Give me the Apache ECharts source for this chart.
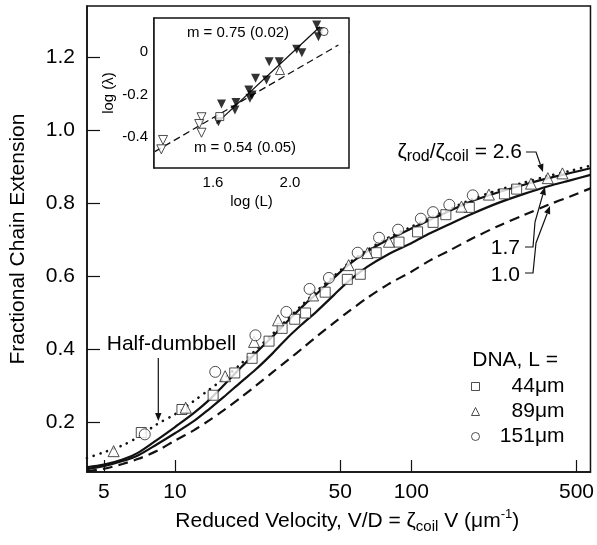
<!DOCTYPE html>
<html><head><meta charset="utf-8">
<script src="https://cdn.jsdelivr.net/npm/echarts@6/dist/echarts.min.js"></script>
<style>html,body{margin:0;padding:0;background:#fff}#c{width:597px;height:545px}</style>
</head><body><div id="c"></div>
<script>
const FONT = '"Liberation Sans", Arial, Helvetica, sans-serif';

// ---- Main plot: model curves (x = reduced velocity V/D, y = fractional extension)
const curveX = [4.24,5,6,7,8.4,10,12,14,16,19,22,26,30,35,40,47,54,65,80,100,120,145,180,235,300,380,470,573];
const halfDumbbell = [0.102,0.118,0.137,0.160,0.195,0.222,0.258,0.290,0.318,0.360,0.398,0.443,0.483,0.525,0.560,0.600,0.634,0.671,0.705,0.735,0.759,0.783,0.810,0.836,0.856,0.874,0.888,0.902];
const ratio26 = [0.077,0.084,0.098,0.117,0.152,0.187,0.225,0.262,0.300,0.350,0.390,0.436,0.477,0.520,0.553,0.595,0.630,0.667,0.700,0.730,0.754,0.778,0.805,0.830,0.850,0.868,0.882,0.895];
const ratio17 = [0.072,0.080,0.094,0.110,0.140,0.170,0.203,0.237,0.268,0.310,0.345,0.390,0.432,0.472,0.505,0.548,0.585,0.625,0.660,0.690,0.717,0.742,0.770,0.801,0.825,0.846,0.862,0.877];
const ratio10 = [0.066,0.073,0.086,0.100,0.122,0.150,0.178,0.206,0.232,0.268,0.300,0.338,0.370,0.405,0.436,0.472,0.502,0.540,0.578,0.612,0.643,0.670,0.702,0.738,0.767,0.795,0.818,0.840];

// ---- Main plot: DNA data
const dna44V = [7.2,10.7,14.5,17.9,21.2,25.0,28.4,32.1,35.7,43.2,53.6,60.8,71.0,88.7,106.3,123.6,140.0,175.9,247.8,279.0];
const dna44Y = [0.172,0.235,0.274,0.335,0.375,0.422,0.457,0.482,0.499,0.556,0.591,0.605,0.664,0.693,0.721,0.747,0.768,0.788,0.825,0.838];
const dna89V = [5.5,11.1,16.3,21.6,27.3,38.4,54.3,65.2,80.4,163,213,321,378,436];
const dna89Y = [0.121,0.240,0.326,0.420,0.479,0.547,0.630,0.663,0.694,0.790,0.823,0.853,0.868,0.881];
const dna151V = [7.45,14.8,21.9,29.6,37.1,44.8,59.3,73.0,87.9,109.7,123.6,144.8,182.0];
const dna151Y = [0.167,0.338,0.438,0.502,0.565,0.595,0.664,0.705,0.727,0.757,0.775,0.795,0.821];

const xTicks = [5,10,50,100,500];
const yTicks = [0.2,0.4,0.6,0.8,1.0,1.2];

// ---- Inset: log(lambda) vs log(L)
const insFilledX = [1.644,1.628,1.719,1.714,1.786,1.803,1.821,1.792,1.878,1.892,1.944,2.035,2.062,2.139,2.156,2.148];
const insFilledY = [-0.245,-0.328,-0.238,-0.273,-0.179,-0.202,-0.124,-0.218,-0.132,-0.046,-0.046,0.013,-0.003,0.127,0.096,0.072];
const insOpenDownX = [1.340,1.331,1.540,1.528,1.540];
const insOpenDownY = [-0.414,-0.458,-0.307,-0.339,-0.380];
const insSquareX = [1.635], insSquareY = [-0.304];
const insTriX = [1.948], insTriY = [-0.085];
const insCircleX = [2.177], insCircleY = [0.096];
const fit075X = [1.618,2.156], fit075Y = [-0.336,0.119];
const fit054X = [1.297,2.252], fit054Y = [-0.469,0.033];
const insXTicks = [1.3,1.4,1.5,1.6,1.7,1.8,1.9,2.0,2.1,2.2,2.3];
const insXLabels = [1.6,2.0];
const insYTicks = [-0.5,-0.45,-0.4,-0.35,-0.3,-0.25,-0.2,-0.15,-0.1,-0.05,0,0.05,0.1,0.15];
const insYLabels = [-0.4,-0.2,0];

const zip = (a,b) => a.map((v,i)=>[v,b[i]]);
const BLACK = '#111';
const openStyle = {color:'#fff', borderColor:'#222', borderWidth:1};

function arrow(pts, head, w) {
  head = head || 8; w = w || 3.2;
  const n = pts.length, p1 = pts[n-2], p2 = pts[n-1];
  const dx = p2[0]-p1[0], dy = p2[1]-p1[1], L = Math.hypot(dx,dy), ux = dx/L, uy = dy/L;
  const bx = p2[0]-ux*head, by = p2[1]-uy*head;
  return [
    {type:'polyline', silent:true, shape:{points: pts.slice(0,-1).concat([[bx,by]])}, style:{stroke:BLACK, lineWidth:1.2, fill:null}},
    {type:'polygon', silent:true, shape:{points:[[p2[0],p2[1]],[bx-uy*w, by+ux*w],[bx+uy*w, by-ux*w]]}, style:{fill:BLACK}}
  ];
}

const chart = echarts.init(document.getElementById('c'), null, {renderer:'canvas'});
const axisLine = {show:true, lineStyle:{color:BLACK, width:1.5}};

const option = {
  animation:false,
  textStyle:{fontFamily:FONT},
  grid:[
    {left:86, top:6, right:4, bottom:73, show:true, borderColor:BLACK, borderWidth:1.5, backgroundColor:'#fff'},
    {left:154, top:18, width:195, height:150, show:true, borderColor:BLACK, borderWidth:1.5, backgroundColor:'#fff', z:5}
  ],
  xAxis:[
    {type:'log', gridIndex:0, logBase:10, min:4.243, max:572.9,
     axisLine:axisLine,
     axisTick:{show:true, inside:true, length:12, customValues:xTicks, lineStyle:{color:BLACK, width:1.2}},
     minorTick:{show:false},
     axisLabel:{customValues:xTicks, fontSize:21, color:'#000', margin:10, fontFamily:FONT, formatter:v=>String(Math.round(v))},
     splitLine:{show:false},
     name:'Reduced Velocity, V/D = ζ{sub|coil} V (μm{sup|-1})',
     nameLocation:'middle', nameGap:30,
     nameTextStyle:{fontSize:21, color:'#000', fontFamily:FONT, lineHeight:26, padding:[0,0,0,17],
       rich:{sub:{fontSize:15, lineHeight:12, verticalAlign:'bottom', fontFamily:FONT, color:'#000'},
             sup:{fontSize:13, lineHeight:12, verticalAlign:'top', fontFamily:FONT, color:'#000'}}}
    },
    {type:'value', gridIndex:1, min:1.293, max:2.307,
     axisLine:axisLine,
     axisTick:{show:true, inside:true, length:5, customValues:insXTicks, lineStyle:{color:BLACK, width:1}},
     axisLabel:{customValues:insXLabels, fontSize:15, color:'#000', margin:7, fontFamily:FONT, formatter:v=>v.toFixed(1)},
     splitLine:{show:false},
     name:'log (L)', nameLocation:'middle', nameGap:26,
     nameTextStyle:{fontSize:15, color:'#000', fontFamily:FONT}
    }
  ],
  yAxis:[
    {type:'value', gridIndex:0, min:0.064, max:1.339,
     axisLine:axisLine,
     axisTick:{show:true, inside:true, length:13, customValues:yTicks, lineStyle:{color:BLACK, width:1.2}},
     axisLabel:{customValues:yTicks, fontSize:21, color:'#000', margin:12, fontFamily:FONT, formatter:v=>v.toFixed(1)},
     splitLine:{show:false},
     name:'Fractional Chain Extension', nameLocation:'middle', nameGap:58, nameRotate:90,
     nameTextStyle:{fontSize:21, color:'#000', fontFamily:FONT}
    },
    {type:'value', gridIndex:1, min:-0.546, max:0.16,
     axisLine:axisLine,
     axisTick:{show:true, inside:true, length:5, customValues:insYTicks, lineStyle:{color:BLACK, width:1}},
     axisLabel:{customValues:insYLabels, fontSize:15, color:'#000', margin:6, fontFamily:FONT, formatter:v=>(Math.abs(v)<1e-9?'0':v.toFixed(1))},
     splitLine:{show:false},
     name:'log (λ)', nameLocation:'middle', nameGap:38, nameRotate:90,
     nameTextStyle:{fontSize:15, color:'#000', fontFamily:FONT}
    }
  ],
  legend:{
    orient:'vertical', left:466, top:371, itemWidth:8, itemHeight:8, itemGap:4,
    selectedMode:false,
    itemStyle:openStyle,
    data:[
      {name:'44μm', icon:'rect', itemStyle:openStyle},
      {name:'89μm', icon:'triangle', itemStyle:openStyle},
      {name:'151μm', icon:'circle', itemStyle:openStyle}
    ],
    formatter:name=>'{a|'+name+'}',
    textStyle:{fontSize:21, color:'#000', fontFamily:FONT, lineHeight:21,
      rich:{a:{width:80, align:'right', fontSize:21, fontFamily:FONT, color:'#000', lineHeight:21}}}
  },
  series:[
    {name:'Half-dumbbell', type:'line', xAxisIndex:0, yAxisIndex:0, data:zip(curveX,halfDumbbell), smooth:0.3, showSymbol:false, silent:true,
     lineStyle:{color:BLACK, width:2.6, type:[0.1,7], cap:'round'}, z:2},
    {name:'ratio 2.6', type:'line', xAxisIndex:0, yAxisIndex:0, data:zip(curveX,ratio26), smooth:0.3, showSymbol:false, silent:true,
     lineStyle:{color:BLACK, width:2.2}, z:2},
    {name:'ratio 1.7', type:'line', xAxisIndex:0, yAxisIndex:0, data:zip(curveX,ratio17), smooth:0.3, showSymbol:false, silent:true,
     lineStyle:{color:BLACK, width:2.2}, z:2},
    {name:'ratio 1.0', type:'line', xAxisIndex:0, yAxisIndex:0, data:zip(curveX,ratio10), smooth:0.3, showSymbol:false, silent:true,
     lineStyle:{color:BLACK, width:2.2, type:[10,6]}, z:2},
    {name:'44μm', type:'scatter', xAxisIndex:0, yAxisIndex:0, data:zip(dna44V,dna44Y), symbol:'rect', symbolSize:10, silent:true,
     itemStyle:openStyle, z:3},
    {name:'89μm', type:'scatter', xAxisIndex:0, yAxisIndex:0, data:zip(dna89V,dna89Y), symbol:'triangle', symbolSize:11, silent:true,
     itemStyle:openStyle, z:3},
    {name:'151μm', type:'scatter', xAxisIndex:0, yAxisIndex:0, data:zip(dna151V,dna151Y), symbol:'circle', symbolSize:11, silent:true,
     itemStyle:openStyle, z:3},
    // inset
    {name:'fit 0.75', type:'line', xAxisIndex:1, yAxisIndex:1, data:zip(fit075X,fit075Y), showSymbol:false, silent:true,
     lineStyle:{color:BLACK, width:1.3}, z:6},
    {name:'fit 0.54', type:'line', xAxisIndex:1, yAxisIndex:1, data:zip(fit054X,fit054Y), showSymbol:false, silent:true,
     lineStyle:{color:BLACK, width:1.3, type:[7,4]}, z:6},
    {name:'inset filled', type:'scatter', xAxisIndex:1, yAxisIndex:1, data:zip(insFilledX,insFilledY), symbol:'triangle', symbolRotate:180, symbolSize:9, silent:true,
     itemStyle:{color:'#000'}, z:7},
    {name:'inset open', type:'scatter', xAxisIndex:1, yAxisIndex:1, data:zip(insOpenDownX,insOpenDownY), symbol:'triangle', symbolRotate:180, symbolSize:9, silent:true,
     itemStyle:openStyle, z:7},
    {name:'inset 44', type:'scatter', xAxisIndex:1, yAxisIndex:1, data:zip(insSquareX,insSquareY), symbol:'rect', symbolSize:8, silent:true,
     itemStyle:openStyle, z:7},
    {name:'inset 89', type:'scatter', xAxisIndex:1, yAxisIndex:1, data:zip(insTriX,insTriY), symbol:'triangle', symbolSize:9, silent:true,
     itemStyle:openStyle, z:7},
    {name:'inset 151', type:'scatter', xAxisIndex:1, yAxisIndex:1, data:zip(insCircleX,insCircleY), symbol:'circle', symbolSize:8, silent:true,
     itemStyle:openStyle, z:7}
  ],
  graphic:[].concat(
    [
      {type:'text', silent:true, x:171.5, y:344, style:{text:'Half-dumbbell', fontSize:21, fontFamily:FONT, fill:'#000', align:'center', verticalAlign:'middle'}},
      {type:'text', silent:true, x:522, y:152, style:{text:'ζ{s|rod}/ζ{s|coil} = 2.6', fontSize:21, fontFamily:FONT, fill:'#000', align:'right', verticalAlign:'middle', lineHeight:26,
        rich:{s:{fontSize:16, fontFamily:FONT, fill:'#000', lineHeight:12, verticalAlign:'bottom'}}}},
      {type:'text', silent:true, x:520, y:248, style:{text:'1.7', fontSize:21, fontFamily:FONT, fill:'#000', align:'right', verticalAlign:'middle'}},
      {type:'text', silent:true, x:520, y:275, style:{text:'1.0', fontSize:21, fontFamily:FONT, fill:'#000', align:'right', verticalAlign:'middle'}},
      {type:'text', silent:true, x:558, y:360, style:{text:'DNA, L =', fontSize:21, fontFamily:FONT, fill:'#000', align:'right', verticalAlign:'middle'}},
      {type:'text', silent:true, x:238, y:33, z:10, style:{text:'m = 0.75 (0.02)', fontSize:15, fontFamily:FONT, fill:'#000', align:'center', verticalAlign:'middle'}},
      {type:'text', silent:true, x:245, y:148, z:10, style:{text:'m = 0.54 (0.05)', fontSize:15, fontFamily:FONT, fill:'#000', align:'center', verticalAlign:'middle'}}
    ],
    arrow([[158.3,358],[158.3,421]]),
    arrow([[526,152],[536,152],[543,172]]),
    arrow([[525,247],[533,247],[535,222],[545,187]]),
    arrow([[525,273],[533,273],[536,243],[550,206]])
  )
};
chart.setOption(option);
</script>
</body></html>
